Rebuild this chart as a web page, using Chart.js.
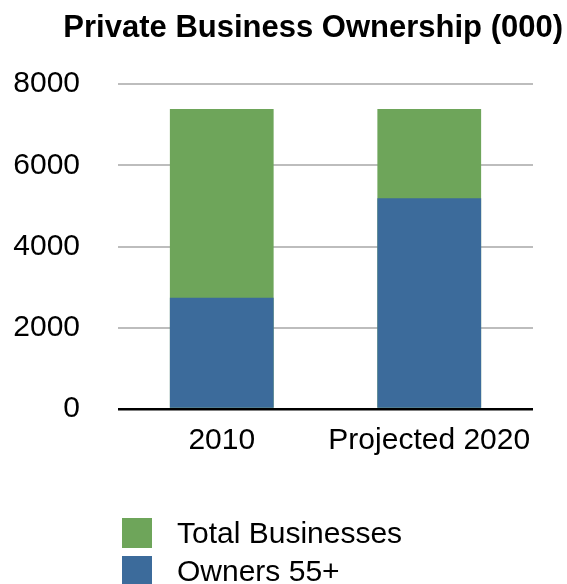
<!DOCTYPE html>
<html>
<head>
<meta charset="utf-8">
<title>Private Business Ownership (000)</title>
<script src="https://cdn.jsdelivr.net/npm/chart.js@4.4.1/dist/chart.umd.min.js"></script>
<style>
  html, body { margin: 0; padding: 0; background: #fff; }
  #wrap { position: relative; width: 567px; height: 584px; }
  #legend {
    position: absolute; left: 122px; top: 518px;
    font-family: 'Liberation Sans', Arial, Helvetica, sans-serif;
    font-size: 30px; color: #000;
  }
  .item { display: flex; align-items: center; height: 30px; margin-bottom: 8px; }
  .box { width: 30px; height: 30px; margin-right: 25px; }
</style>
</head>
<body>
<div id="wrap">
  <canvas id="ownershipChart"></canvas>
  <div id="legend"></div>
</div>
<script>
var categories = ['2010', 'Projected 2020'];
var totalBusinesses = [7390, 7390];
var owners55 = [2740, 5190];
var yTicks = [0, 2000, 4000, 6000, 8000];

var FONT = "'Liberation Sans', Arial, Helvetica, sans-serif";
Chart.defaults.font.family = FONT;
Chart.defaults.color = '#000';

var ctx = document.getElementById('ownershipChart').getContext('2d');

// total sits behind, owners drawn on top of it (overlapping, not stacked)
var ownershipChart = new Chart(ctx, {
  type: 'bar',
  data: {
    labels: categories,
    datasets: [
      {
        label: 'Total Businesses',
        data: totalBusinesses,
        backgroundColor: '#6ea55a',
        order: 1,
      },
      {
        label: 'Owners 55+',
        data: owners55,
        backgroundColor: '#3c6b9b',
        order: 0,
      },
    ],
  },
  options: {
    responsive: true,
    maintainAspectRatio: false,
    animation: false,
    barPercentage: 0.5,
    categoryPercentage: 1.0,
    layout: {
      padding: { left: 13, right: 4, top: 0, bottom: 111 },
    },
    plugins: {
      legend: { display: false },
      tooltip: { enabled: false },
      title: {
        display: true,
        text: 'Private Business Ownership (000)',
        align: 'end',
        color: '#000',
        font: { size: 31, weight: 'bold' },
        padding: { top: 10, bottom: 37 },
      },
    },
    scales: {
      x: {
        stacked: true,
        grid: { display: false, drawTicks: false },
        border: { display: false },
        ticks: {
          font: { size: 30 },
          padding: 14,
          color: '#000',
          maxRotation: 0,
          minRotation: 0,
          autoSkip: false,
        },
      },
      y: {
        stacked: false,
        min: 0,
        max: 8000,
        afterBuildTicks: function (scale) {
          scale.ticks = yTicks.map(function (v) { return { value: v }; });
        },
        afterFit: function (scale) { scale.width = 105; },
        grid: {
          drawTicks: false,
          lineWidth: function (c) { return c.tick && c.tick.value === 0 ? 2.5 : 2; },
          color: function (c) { return c.tick && c.tick.value === 0 ? '#000' : '#bdbdbd'; },
        },
        border: { display: false },
        ticks: {
          font: { size: 30 },
          padding: 38,
          color: '#000',
          callback: function (v) { return String(v); },
        },
      },
      // empty right-hand scale, only to keep the plot off the right edge
      yRight: {
        position: 'right',
        display: true,
        grid: { display: false, drawTicks: false },
        border: { display: false },
        ticks: { display: false },
        afterFit: function (scale) { scale.width = 30; },
      },
    },
  },
});

// legend as a vertical list below the chart
var legendEl = document.getElementById('legend');
ownershipChart.data.datasets.forEach(function (ds) {
  var row = document.createElement('div');
  row.className = 'item';
  var box = document.createElement('span');
  box.className = 'box';
  box.style.background = ds.backgroundColor;
  var txt = document.createElement('span');
  txt.textContent = ds.label;
  row.appendChild(box);
  row.appendChild(txt);
  legendEl.appendChild(row);
});
</script>
</body>
</html>
